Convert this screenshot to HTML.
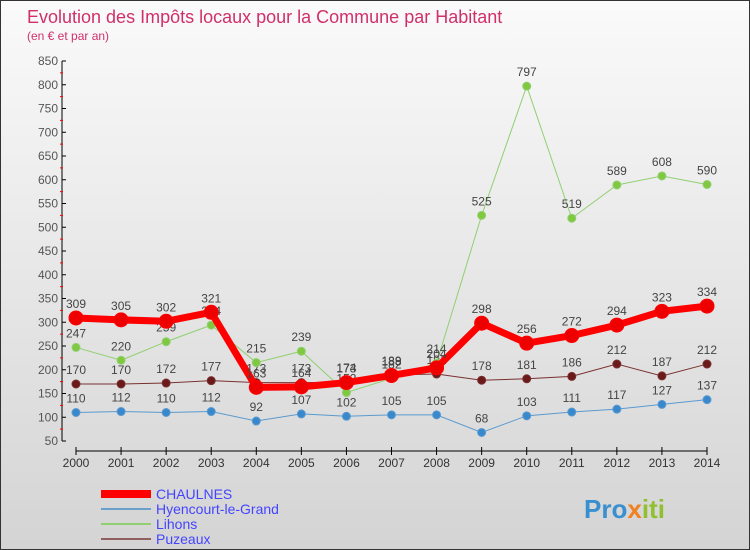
<!DOCTYPE html>
<html><head><meta charset="utf-8"><style>
body{margin:0}
#c{width:750px;height:550px;position:relative;background:linear-gradient(#fafafa,#d4d4d4);font-family:"Liberation Sans",sans-serif;overflow:hidden;box-sizing:border-box;border:1px solid #333}
</style></head><body>
<div id="c">
<svg id="s" width="750" height="550" xmlns="http://www.w3.org/2000/svg">
<text x="26" y="22" font-size="18" fill="#d0306a">Evolution des Impôts locaux pour la Commune par Habitant</text>
<text x="26" y="39" font-size="12" fill="#d0306a">(en € et par an)</text>
<g id="axes"></g><g id="series"></g>
<g>
<rect x="100" y="489" width="50" height="8" fill="#f00"/>
<text x="155" y="498" font-size="14" fill="#44f">CHAULNES</text>
<rect x="100" y="507" width="50" height="2" fill="#6aa0cc"/>
<text x="155" y="513" font-size="14" fill="#44f">Hyencourt-le-Grand</text>
<rect x="100" y="522" width="50" height="2" fill="#90d070"/>
<text x="155" y="528" font-size="14" fill="#44f">Lihons</text>
<rect x="100" y="537" width="50" height="2" fill="#906060"/>
<text x="155" y="543" font-size="14" fill="#44f">Puzeaux</text>
</g>
<text x="583" y="517" font-size="26" font-weight="bold" fill="#3a8fd0">Pro<tspan fill="#f08020">x</tspan><tspan fill="#90c030">iti</tspan></text>
</svg></div>
<script>
const years=[2000,2001,2002,2003,2004,2005,2006,2007,2008,2009,2010,2011,2012,2013,2014];
const yTicks=[50,100,150,200,250,300,350,400,450,500,550,600,650,700,750,800,850];
const chaulnes=[309,305,302,321,163,164,173,188,204,298,256,272,294,323,334];
const hyencourt=[110,112,110,112,92,107,102,105,105,68,103,111,117,127,137];
const lihons=[247,220,259,294,215,239,152,182,214,525,797,519,589,608,590];
const puzeaux=[170,170,172,177,173,173,174,189,191,178,181,186,212,187,212];
const NS="http://www.w3.org/2000/svg";
const X=i=>75+i*(706-75)/14;
const Y=v=>440-(v-50)*380/800;
function mk(p,t,a){const e=document.createElementNS(NS,t);for(const k in a)e.setAttribute(k,a[k]);p.appendChild(e);return e;}
const ax=document.getElementById('axes');
const yl=mk(ax,'line',{x1:61,y1:60,x2:61,y2:440,stroke:'#000'});


yTicks.forEach(v=>{
 mk(ax,'line',{x1:61,y1:Y(v),x2:65,y2:Y(v),stroke:'#000'});
 if(v<850)mk(ax,'line',{x1:59,y1:Y(v+25),x2:62,y2:Y(v+25),stroke:'#f00'});
 const t=mk(ax,'text',{x:57,y:Y(v)+4,'text-anchor':'end','font-size':12,fill:'#555'});t.textContent=v;
 
 
});
const xl=mk(ax,'line',{x1:75,y1:450,x2:706,y2:450,stroke:'#000'});


years.forEach((y,i)=>{
 mk(ax,'line',{x1:X(i),y1:446,x2:X(i),y2:454,stroke:'#000'});
 const t=mk(ax,'text',{x:X(i),y:466,'text-anchor':'middle','font-size':12,fill:'#333'});t.textContent=y;
 
 
});
const sg=document.getElementById('series');
function series(name,vals,col,dot,w,r){
 const g=mk(sg,'g',{});
 
 
 mk(g,'polyline',{points:vals.map((v,i)=>X(i)+','+Y(v)).join(' '),fill:'none',stroke:col,'stroke-width':w});
 vals.forEach((v,i)=>{
  const c=mk(g,'circle',{cx:X(i),cy:Y(v),r:r,fill:dot,stroke:col,'stroke-width':1});
  
  
  const t=mk(g,'text',{x:X(i),y:Y(v)-10,'text-anchor':'middle','font-size':12,fill:'#444'});t.textContent=v;
  
  
 });
}
series('puzeaux',puzeaux,'#7a3030','#6a1a1a',1,4);
series('hyencourt',hyencourt,'#5a9ad0','#3a88cc',1,4);
series('lihons',lihons,'#90d070','#80c840',1,4);
series('chaulnes',chaulnes,'#f00','#e00',7,7);
</script>
</body></html>
